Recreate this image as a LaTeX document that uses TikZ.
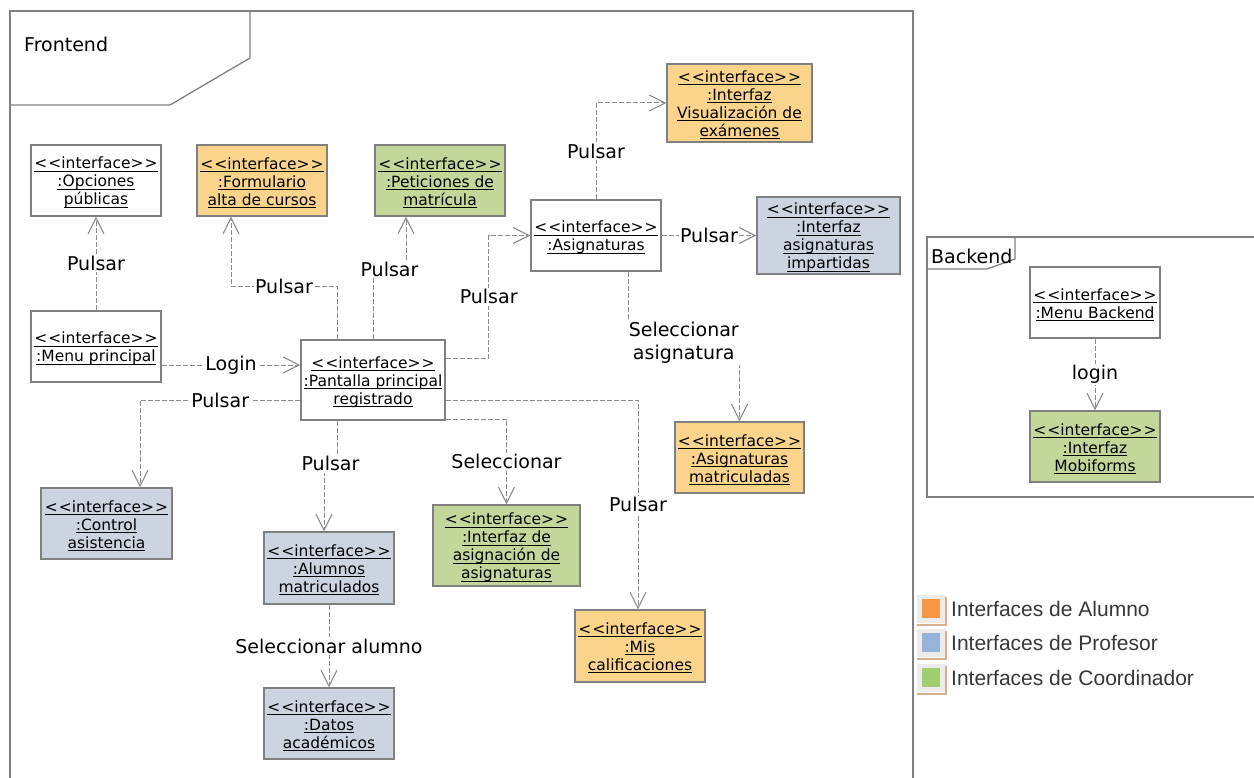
\documentclass[tikz,border=0pt]{standalone}
\usepackage{fontspec}
\setmainfont{DejaVu Sans}
\newfontfamily\legendfont{Liberation Sans}
\usetikzlibrary{arrows.meta}

% underlined line of object text, rule at a fixed depth
\newcommand\uln[1]{\setbox0\hbox{#1}\rlap{\rule[-2.6pt]{\wd0}{0.9pt}}\box0}
\newcommand\stereo{\rule{0pt}{16pt}\uln{<\kern1pt<interface>\kern1pt>}}

\definecolor{linegray}{RGB}{128,128,128}
\definecolor{dashgray}{RGB}{140,140,140}
\definecolor{alumno}{RGB}{250,212,139}
\definecolor{profesor}{RGB}{205,212,225}
\definecolor{coord}{RGB}{196,215,155}
\definecolor{alumnoicon}{RGB}{248,150,72}
\definecolor{profesoricon}{RGB}{150,180,215}
\definecolor{coordicon}{RGB}{160,205,112}
\definecolor{icontan}{RGB}{214,176,140}
\definecolor{iconbg}{RGB}{236,236,236}
\definecolor{legendtext}{RGB}{55,55,55}

\tikzset{
  iface/.style={draw=linegray, line width=1.3pt, align=center, inner sep=0pt,
    font=\fontsize{15.5}{18}\selectfont, text=black},
  alumnobox/.style={iface, fill=alumno},
  profbox/.style={iface, fill=profesor},
  coordbox/.style={iface, fill=coord},
  conn/.style={draw=dashgray, line width=1pt, dash pattern=on 5pt off 2pt,
    -{Straight Barb[length=16pt,width=16pt,line width=1.1pt]}},
  lbl/.style={fill=white, inner sep=1.5pt, font=\fontsize{19}{23}\selectfont,
    align=center, text=black},
  frame/.style={draw=linegray, line width=1.3pt},
  legendentry/.style={anchor=west, inner sep=0pt, text=legendtext,
    font=\legendfont\fontsize{21}{24}\selectfont},
}

\begin{document}
\begin{tikzpicture}[x=1pt, y=-1pt]
\useasboundingbox (0,0) rectangle (1254,778);

% ---- Frontend package frame ----
\draw[frame] (10,778) -- (10,11) -- (913,11) -- (913,778);
\draw[frame] (250,11) -- (250,58) -- (170,105) -- (10,105);
\node[anchor=west, inner sep=0pt, font=\fontsize{19}{22}\selectfont] (fronttitle) at (24,44) {Frontend};

% ---- Backend package frame ----
\draw[frame] (1254,237) -- (927,237) -- (927,497) -- (1254,497);
\draw[frame] (1015,237) -- (1015,259) -- (987,269) -- (927,269);
\node[anchor=west, inner sep=0pt, font=\fontsize{19}{22}\selectfont] (backtitle) at (931,256) {Backend};

% ---- Frontend objects ----
\node[iface, minimum width=130pt, minimum height=71pt] (opc) at (96,180.5)
  {\stereo\\\uln{:Opciones}\\\uln{públicas}};
\node[alumnobox, minimum width=130pt, minimum height=71pt] (form) at (262,180.5)
  {\stereo\\\uln{:Formulario}\\\uln{alta de cursos}};
\node[coordbox, minimum width=130pt, minimum height=71pt] (pet) at (440,180.5)
  {\stereo\\\uln{:Peticiones de}\\\uln{matrícula}};
\node[alumnobox, minimum width=145pt, minimum height=78pt] (vis) at (739.5,103)
  {\stereo\\\uln{:Interfaz}\\\uln{Visualización de}\\\uln{exámenes}};
\node[iface, minimum width=130pt, minimum height=71pt] (asig) at (596,235.5)
  {\stereo\\\uln{:Asignaturas}};
\node[profbox, minimum width=143pt, minimum height=77pt] (imp) at (828.5,235.5)
  {\stereo\\\uln{:Interfaz}\\\uln{asignaturas}\\\uln{impartidas}};
\node[iface, minimum width=130pt, minimum height=71pt] (menu) at (96,346.5)
  {\stereo\\\uln{:Menu principal}};
\node[iface, minimum width=144pt, minimum height=80pt] (pant) at (373,380)
  {\stereo\\\uln{:Pantalla principal}\\\uln{registrado}};
\node[alumnobox, minimum width=129pt, minimum height=71pt] (amat) at (739.5,457.5)
  {\stereo\\\uln{:Asignaturas}\\\uln{matriculadas}};
\node[profbox, minimum width=131pt, minimum height=71pt] (ctrl) at (106.5,523.5)
  {\stereo\\\uln{:Control}\\\uln{asistencia}};
\node[profbox, minimum width=130pt, minimum height=72pt] (alum) at (329,568)
  {\stereo\\\uln{:Alumnos}\\\uln{matriculados}};
\node[coordbox, minimum width=147pt, minimum height=81pt] (asgn) at (506.5,545.5)
  {\stereo\\\uln{:Interfaz de}\\\uln{asignación de}\\\uln{asignaturas}};
\node[alumnobox, minimum width=130pt, minimum height=72pt] (mis) at (640,646)
  {\stereo\\\uln{:Mis}\\\uln{calificaciones}};
\node[profbox, minimum width=130pt, minimum height=71pt] (dat) at (329,723.5)
  {\stereo\\\uln{:Datos}\\\uln{académicos}};

% ---- Backend objects ----
\node[iface, minimum width=130pt, minimum height=71pt] (mb) at (1095,302.5)
  {\stereo\\\uln{:Menu Backend}};
\node[coordbox, minimum width=130pt, minimum height=71pt] (mob) at (1095,446.5)
  {\stereo\\\uln{:Interfaz}\\\uln{Mobiforms}};

% ---- Navigation links ----
\draw[conn] (menu.north) -- node[lbl] {Pulsar} (opc.south);
\draw[conn] ([yshift=-18.5pt]menu.east) -- node[lbl] {Login} ([yshift=15pt]pant.west);
\draw[conn] ([xshift=-36pt]pant.north) -- ++(0,-53)
  -| node[lbl, pos=0.25] {Pulsar} ([xshift=-31pt]form.south);
\draw[conn] (pant.north) -- ++(0,-70)
  -| node[lbl, pos=0.25] {Pulsar} ([xshift=-34pt]pet.south);
\draw[conn] ([yshift=22pt]pant.east) -- ++(43,0)
  |- node[lbl, pos=0.25] {Pulsar} (asig.west);
\draw[conn] (asig.north) |- node[lbl, pos=0.25] {Pulsar} (vis.west);
\draw[conn] (asig.east) -- node[lbl] {Pulsar} (imp.west);
\draw[conn] ([xshift=32pt]asig.south) -- ++(0,71)
  -| node[lbl, pos=0.25] {Seleccionar\\asignatura} (amat.north);
\draw[conn] ([yshift=-20pt]pant.west)
  -| node[lbl, pos=0.25] {Pulsar} ([xshift=33.5pt]ctrl.north);
\draw[conn] ([xshift=-36pt]pant.south) -- ++(0,43)
  -| node[lbl, pos=0.25] {Pulsar} ([xshift=-5pt]alum.north);
\draw[conn] ([yshift=-39pt]pant.east)
  -| node[lbl, pos=0.75] {Seleccionar} (asgn.north);
\draw[conn] ([yshift=-20pt]pant.east)
  -| node[lbl, pos=0.75] {Pulsar} ([xshift=-2pt]mis.north);
\draw[conn] (alum.south) -- node[lbl] {Seleccionar alumno} (dat.north);
\draw[conn] (mb.south) -- node[lbl] {login} (mob.north);

% ---- Legend ----
\foreach \y/\c/\t in {609/alumnoicon/Interfaces de Alumno,
                      643/profesoricon/Interfaces de Profesor,
                      678/coordicon/Interfaces de Coordinador}{
  \fill[iconbg] (917,\y-14) rectangle (946,\y+14);
  \fill[\c] (922,\y-10) rectangle (940,\y+9);
  \draw[icontan, line width=1.6pt] (917,\y+16) -- (946,\y+16) -- (946,\y-12);
  \node[legendentry] at (951,\y) {\t};
}
\end{tikzpicture}
\end{document}
